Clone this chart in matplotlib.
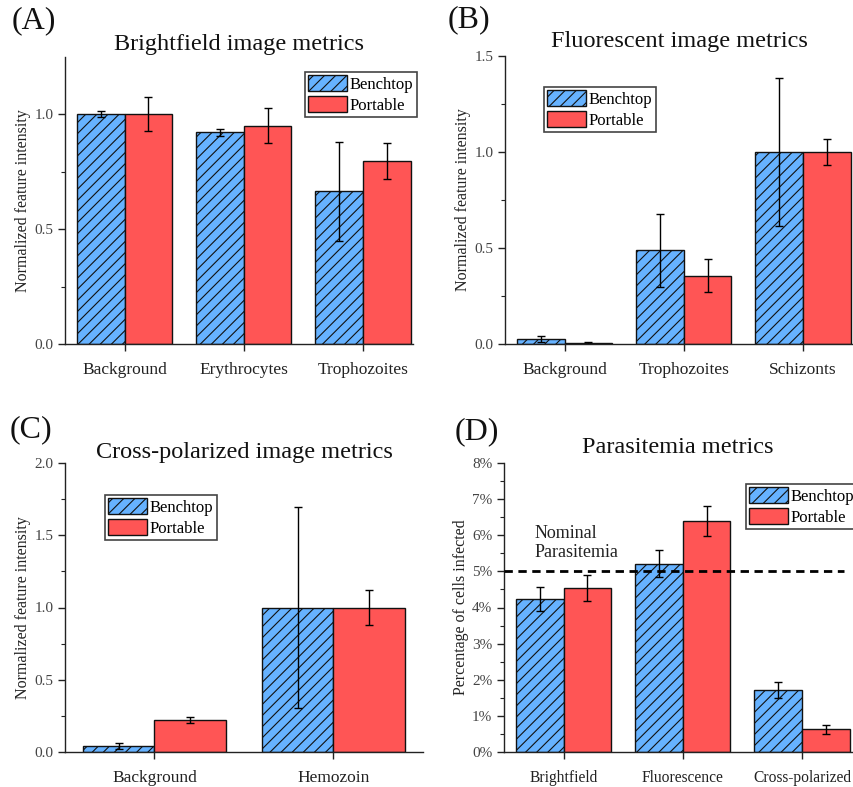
import matplotlib
matplotlib.use('Agg')
import matplotlib.pyplot as plt
import numpy as np
from matplotlib.ticker import MultipleLocator, PercentFormatter
from matplotlib.patches import Patch

plt.rcParams['font.family'] = ['Liberation Serif', 'DejaVu Serif']
plt.rcParams['hatch.linewidth'] = 0.8

# ---- data ----
series = ['Benchtop', 'Portable']

cats_a = ['Background', 'Erythrocytes', 'Trophozoites']
bench_a = [1.00, 0.92, 0.665]
bench_a_err = [0.012, 0.015, 0.215]
port_a = [1.00, 0.95, 0.795]
port_a_err = [0.075, 0.075, 0.077]

cats_b = ['Background', 'Trophozoites', 'Schizonts']
bench_b = [0.028, 0.487, 1.00]
bench_b_err = [0.015, 0.19, 0.383]
port_b = [0.005, 0.356, 1.00]
port_b_err = [0.003, 0.087, 0.066]

cats_c = ['Background', 'Hemozoin']
bench_c = [0.04, 1.00]
bench_c_err = [0.022, 0.695]
port_c = [0.22, 1.00]
port_c_err = [0.02, 0.12]

cats_d = ['Brightfield', 'Fluorescence', 'Cross-polarized']
bench_d = [4.23, 5.21, 1.72]
bench_d_err = [0.33, 0.37, 0.22]
port_d = [4.54, 6.40, 0.63]
port_d_err = [0.365, 0.41, 0.13]
nominal = 5.0

BLUE = '#66b2ff'
RED = '#ff5555'
W, H = 854, 787

fig = plt.figure(figsize=(W / 100, H / 100), dpi=100)


def px_axes(left, top, right, bottom):
    return fig.add_axes([left / W, 1 - bottom / H, (right - left) / W, (bottom - top) / H])


def draw_panel(ax, cats, b, be, p, pe, ylim, major, minor, xmax, title, ylabel,
               title_pad=5, cat_size=12.5):
    x = np.arange(1, len(cats) + 1)
    w = 0.4
    ekw = dict(ecolor='black', elinewidth=1, capsize=3, capthick=1)
    ax.bar(x - w / 2, b, w, yerr=be, color=BLUE, edgecolor='#111111',
           linewidth=1, hatch='///', error_kw=ekw, zorder=2)
    ax.bar(x + w / 2, p, w, yerr=pe, color=RED, edgecolor='#111111',
           linewidth=1, error_kw=ekw, zorder=2)
    ax.set_xlim(0.5, xmax)
    ax.set_ylim(*ylim)
    ax.set_xticks(x)
    ax.set_xticklabels(cats, fontsize=cat_size)
    ax.yaxis.set_major_locator(MultipleLocator(major))
    ax.yaxis.set_minor_locator(MultipleLocator(minor))
    for s in ('top', 'right'):
        ax.spines[s].set_visible(False)
    for s in ('left', 'bottom'):
        ax.spines[s].set_color('#222222')
        ax.spines[s].set_linewidth(1)
    ax.tick_params(axis='y', which='major', length=5, width=1, labelsize=11,
                   labelcolor='#444444', color='#222222')
    ax.tick_params(axis='y', which='minor', length=3, width=0.8, color='#222222')
    ax.tick_params(axis='x', length=5, width=1, pad=8, color='#222222', labelcolor='#222222')
    ax.set_title(title, fontsize=17.5, color='#111111', pad=title_pad)
    ax.set_ylabel(ylabel, fontsize=11.5, color='#222222', labelpad=2)


def add_legend(ax, left, top):
    handles = [Patch(facecolor=BLUE, edgecolor='#111111', hatch='///', linewidth=1),
               Patch(facecolor=RED, edgecolor='#111111', linewidth=1)]
    leg = ax.legend(handles, series, loc='upper left',
                    bbox_to_anchor=(left / W, 1 - top / H), bbox_transform=fig.transFigure,
                    fontsize=12, fancybox=False, framealpha=1, edgecolor='#444444',
                    handlelength=2.3, handleheight=1.1, handletextpad=0.2,
                    labelspacing=0.2, borderpad=0.2, borderaxespad=0)
    leg.get_frame().set_linewidth(1.2)


ylab = 'Normalized feature intensity'

ax_a = px_axes(65, 57, 413, 344)
draw_panel(ax_a, cats_a, bench_a, bench_a_err, port_a, port_a_err,
           (0, 1.248), 0.5, 0.25, 3.42, 'Brightfield image metrics', ylab, title_pad=5)
add_legend(ax_a, 305, 72)

ax_b = px_axes(505, 56, 853, 344)
draw_panel(ax_b, cats_b, bench_b, bench_b_err, port_b, port_b_err,
           (0, 1.5), 0.5, 0.25, 3.42, 'Fluorescent image metrics', ylab, title_pad=6.5)
add_legend(ax_b, 544, 87)

ax_c = px_axes(65, 463, 423, 752)
draw_panel(ax_c, cats_c, bench_c, bench_c_err, port_c, port_c_err,
           (0, 2.0), 0.5, 0.25, 2.5, 'Cross-polarized image metrics', ylab, title_pad=3.5)
add_legend(ax_c, 105, 495)

ax_d = px_axes(504, 463, 852, 752)
draw_panel(ax_d, cats_d, bench_d, bench_d_err, port_d, port_d_err,
           (0, 8), 1, 0.5, 3.42, 'Parasitemia metrics', 'Percentage of cells infected',
           title_pad=7, cat_size=11.2)
ax_d.yaxis.set_major_formatter(PercentFormatter(decimals=0))
ax_d.plot([0.5, 3.35], [nominal, nominal], color='black', lw=2,
          linestyle=(0, (3, 2)), zorder=3)
ax_d.text(0.76, 5.3, 'Nominal\nParasitemia', fontsize=13, color='#222222',
          ha='left', va='bottom', linespacing=1.15)
add_legend(ax_d, 746, 484)

# panel letters
for lbl, (px, py) in zip(['(A)', '(B)', '(C)', '(D)'],
                         [(12, 21), (448, 20), (10, 430), (455, 432)]):
    fig.text(px / W, 1 - py / H, lbl, fontsize=23, ha='left', va='center', color='#111111')

fig.savefig('out.png', dpi=100, facecolor='white')
